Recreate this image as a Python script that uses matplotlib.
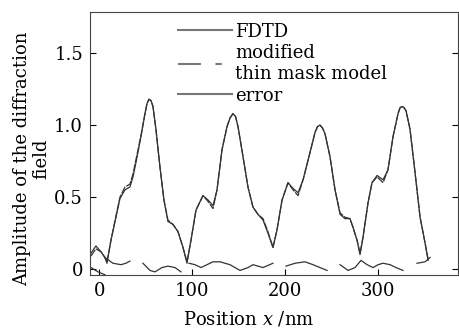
import numpy as np
import matplotlib
matplotlib.use("Agg")
import matplotlib.pyplot as plt
from matplotlib.lines import Line2D

plt.rcParams["font.family"] = "DejaVu Serif"
plt.rcParams["mathtext.fontset"] = "dejavuserif"
plt.rcParams["font.size"] = 13

# FDTD curve
pos = [-9.0, -3.7, 1.7, 6.0, 8.2, 12.5, 17.9, 22.2, 27.6, 32.9, 36.2, 39.4, 44.8, 49.1,
       51.3, 53.4, 55.6, 57.7, 60.9, 65.2, 69.5, 73.8, 79.2, 84.6, 90.0, 94.3, 98.6, 104.0, 111.5,
       116.9, 122.3, 126.6, 132.0, 137.4, 140.6, 143.8, 146.5, 149.2, 154.6, 159.9, 165.3, 170.7,
       176.1, 181.4, 186.8, 191.1, 196.6, 203.0, 208.4, 213.8, 219.2, 226.7, 232.1,
       234.8, 237.4, 240.1, 242.8, 248.2, 253.6, 259.0, 264.3, 269.7, 272.9, 277.3, 280.5, 283.7,
       289.1, 293.4, 298.8, 305.3, 310.6, 316.0, 321.4, 323.5, 325.7, 328.0, 330.0, 334.3, 339.7,
       345.1, 350.5, 353.7]
fdtd = [0.11, 0.16, 0.12, 0.08, 0.04, 0.20, 0.36, 0.49, 0.55, 0.57, 0.64, 0.74, 0.92, 1.08,
        1.15, 1.18, 1.17, 1.13, 0.97, 0.71, 0.48, 0.33, 0.31, 0.26, 0.15, 0.04, 0.20, 0.41, 0.51,
        0.48, 0.44, 0.55, 0.83, 0.99, 1.05, 1.08, 1.06, 0.99, 0.78, 0.57, 0.43, 0.38,
        0.34, 0.25, 0.15, 0.27, 0.48, 0.60, 0.56, 0.53, 0.62, 0.81, 0.95,
        0.99, 1.00, 0.98, 0.94, 0.78, 0.55, 0.38, 0.35, 0.35, 0.29, 0.20, 0.10, 0.22,
        0.46, 0.60, 0.65, 0.62, 0.69, 0.92, 1.08, 1.12, 1.13, 1.12, 1.10, 0.97, 0.67,
        0.36, 0.18, 0.06]
# modified thin mask model
modified = [0.09, 0.14, 0.12, 0.08, 0.05, 0.20, 0.37, 0.50, 0.57, 0.59, 0.66, 0.76, 0.93, 1.08,
            1.15, 1.18, 1.17, 1.13, 0.97, 0.71, 0.48, 0.34, 0.31, 0.26, 0.15, 0.05, 0.20, 0.41, 0.51,
            0.47, 0.42, 0.55, 0.83, 0.99, 1.05, 1.08, 1.06, 0.99, 0.78, 0.57, 0.43, 0.38,
            0.35, 0.26, 0.15, 0.27, 0.48, 0.60, 0.55, 0.51, 0.62, 0.81, 0.95,
            0.99, 1.00, 0.98, 0.94, 0.78, 0.55, 0.39, 0.36, 0.35, 0.29, 0.20, 0.11, 0.22,
            0.46, 0.60, 0.64, 0.60, 0.69, 0.92, 1.08, 1.12, 1.13, 1.12, 1.10, 0.97, 0.67,
            0.36, 0.18, 0.07]
# error, broken into pieces (nan = gap)
err_pos = [-9.0, -1.5, 6.0, np.nan,
           6.0, 14.6, 23.3, 28.6, 32.9, np.nan,
           46.9, 54.5, 59.8, 67.4, 73.8, 81.4, 87.8, np.nan,
           96.4, 102.9, 109.4, 115.8, 122.3, 129.8, 140.6, 151.3, 160.0, 165.3, 176.1, 186.8, np.nan,
           200.9, 210.6, 221.3, 229.9, 237.4, 245.0, np.nan,
           259.0, 267.6, 275.1, 281.6, 288.1, 294.5, 299.9, 305.3, 312.8, 319.2, 326.7, np.nan,
           341.8, 350.5, 355.9]
err = [0.01, -0.02, -0.04, np.nan,
       0.08, 0.04, 0.03, 0.04, 0.055, np.nan,
       0.04, -0.01, -0.02, 0.01, 0.02, 0.01, -0.02, np.nan,
       0.04, 0.03, 0.01, 0.03, 0.05, 0.05, 0.03, -0.01, 0.01, 0.03, 0.01, 0.04, np.nan,
       0.02, 0.04, 0.05, 0.03, 0.01, -0.01, np.nan,
       0.03, -0.01, 0.01, 0.06, 0.03, 0.01, 0.03, 0.04, 0.03, 0.01, -0.01, np.nan,
       0.04, 0.05, 0.08]

labels = ["FDTD", "modified\nthin mask model", "error"]

fig = plt.figure(figsize=(4.59, 3.29), dpi=100)
ax = fig.add_axes([0.196, 0.164, 0.802, 0.799])

ax.plot(pos, fdtd, color="#333333", lw=0.9)
ax.plot(pos, modified, color="#333333", lw=0.9, dashes=(6, 1))
ax.plot(err_pos, err, color="#333333", lw=0.9)

ax.set_xlim(-10.1, 386)
ax.set_ylim(-0.042, 1.785)
ax.set_xticks([0, 100, 200, 300])
ax.set_yticks([0, 0.5, 1.0, 1.5])
ax.set_yticklabels(["0", "0.5", "1.0", "1.5"])
ax.tick_params(direction="in", length=4, right=True, pad=5)
for s in ax.spines.values():
    s.set_color("#444444")

ax.set_xlabel("Position $x$ /nm")
ax.xaxis.set_label_coords(0.432, -0.13)
ax.set_ylabel("Amplitude of the diffraction\nfield", linespacing=1.1)
ax.yaxis.set_label_coords(-0.108, 0.443)

handles = [Line2D([], [], color="#777777", lw=1.5),
           Line2D([], [], color="#777777", lw=1.5, dashes=(11, 7, 3, 7)),
           Line2D([], [], color="#777777", lw=1.5)]
ax.legend(handles, labels, loc="upper left", bbox_to_anchor=(0.239, 0.96),
          frameon=False, borderpad=0, borderaxespad=0, handlelength=3.0,
          handletextpad=0.15, labelspacing=0.2, fontsize=13)

fig.savefig("out.png", dpi=100)
